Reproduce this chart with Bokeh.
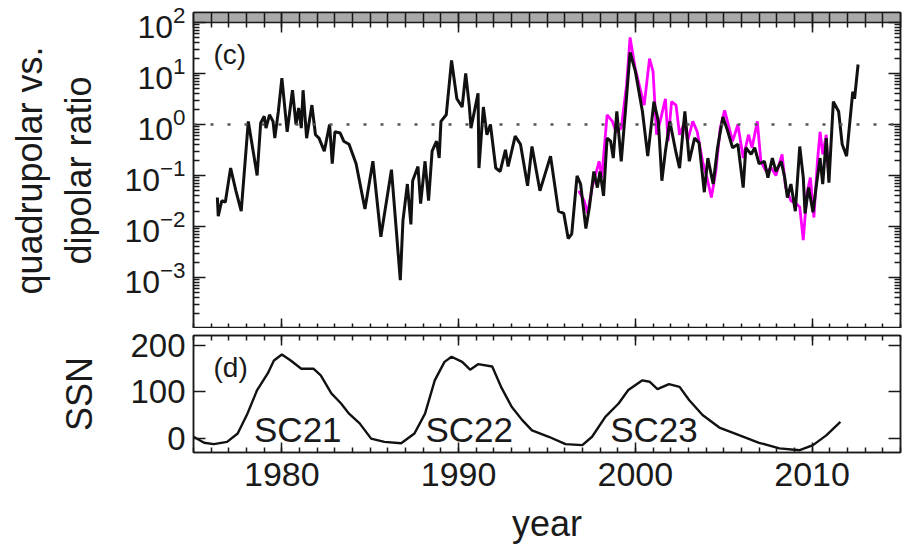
from bokeh.plotting import figure
from bokeh.layouts import column
from bokeh.models import (Range1d, FixedTicker, LinearAxis, LogAxis, Span, Label,
                          ColumnDataSource, BoxAnnotation, CustomJSTickFormatter)
from bokeh.embed import file_html
from bokeh.resources import INLINE

# ---------------- data ----------------
ratio_year = [1976.35, 1976.4, 1976.6, 1976.8, 1977.1, 1977.4, 1977.7, 1978.1, 1978.6, 1978.8,
              1979.0, 1979.1, 1979.3, 1979.5, 1979.6, 1979.8, 1980.0, 1980.3, 1980.6, 1980.8,
              1980.95, 1981.1, 1981.2, 1981.4, 1981.7, 1981.9, 1982.1, 1982.4, 1982.7, 1982.85,
              1983.0, 1983.3, 1983.5, 1983.8, 1984.2, 1984.7, 1985.15, 1985.6, 1986.2, 1986.7,
              1986.85, 1987.1, 1987.3, 1987.4, 1987.7, 1987.85, 1988.1, 1988.3, 1988.5, 1988.75,
              1988.9, 1989.0, 1989.3, 1989.6, 1989.9, 1990.2, 1990.4, 1990.6, 1990.7, 1991.1,
              1991.15, 1991.4, 1991.6, 1991.8, 1992.1, 1992.35, 1992.65, 1992.8, 1993.2, 1993.5,
              1993.9, 1994.15, 1994.6, 1995.2, 1995.65, 1995.95, 1996.2, 1996.4, 1996.7, 1996.9,
              1997.2, 1997.4, 1997.65, 1997.85, 1998.0, 1998.2, 1998.4, 1998.6, 1998.75, 1998.95,
              1999.2, 1999.45, 1999.7, 2000.0, 2000.4, 2000.7, 2001.05, 2001.3, 2001.5, 2001.7,
              2001.95, 2002.3, 2002.5, 2002.8, 2003.05, 2003.35, 2003.6, 2003.9, 2004.1, 2004.4,
              2004.65, 2004.95, 2005.2, 2005.5, 2005.8, 2006.1, 2006.25, 2006.55, 2006.75, 2007.0,
              2007.3, 2007.5, 2007.75, 2007.95, 2008.25, 2008.45, 2008.6, 2008.8, 2009.05, 2009.3,
              2009.5, 2009.6, 2009.8, 2010.05, 2010.25, 2010.45, 2010.6, 2010.8, 2010.95, 2011.2,
              2011.5, 2011.7, 2011.95, 2012.1, 2012.3, 2012.4, 2012.6]
ratio_val = [0.037, 0.016, 0.032, 0.030, 0.14, 0.050, 0.020, 1.15, 0.10, 1.07,
             1.45, 0.85, 1.55, 1.15, 0.54, 1.8, 8.1, 0.72, 4.7, 1.0,
             2.1, 0.85, 4.7, 0.54, 2.4, 0.63, 0.54, 0.30, 1.0, 0.17,
             0.72, 0.68, 0.47, 0.41, 0.17, 0.022, 0.19, 0.0063, 0.13, 0.00089,
             0.013, 0.068, 0.011, 0.079, 0.15, 0.028, 0.19, 0.032, 0.30, 0.47,
             0.22, 1.15, 1.55, 18.0, 3.2, 2.2, 10.0, 2.4, 0.85, 4.1,
             0.14, 2.2, 0.63, 1.0, 0.14, 0.12, 0.32, 0.15, 0.59, 0.41,
             0.063, 0.37, 0.050, 0.24, 0.020, 0.018, 0.0058, 0.0072, 0.098, 0.068,
             0.0091, 0.024, 0.12, 0.058, 0.12, 0.040, 0.54, 0.47, 0.22, 1.8,
             0.19, 2.1, 26.0, 11.0, 1.8, 0.24, 2.8, 1.15, 0.079, 0.30,
             1.15, 0.28, 0.14, 1.8, 0.19, 0.54, 0.44, 0.047, 0.22, 0.068,
             0.35, 1.4, 0.79, 0.35, 0.41, 0.058, 0.35, 0.26, 0.35, 0.17,
             0.19, 0.091, 0.22, 0.12, 0.19, 0.091, 0.037, 0.068, 0.020, 0.37,
             0.091, 0.018, 0.058, 0.019, 0.068, 0.22, 0.068, 0.54, 0.072, 2.8,
             1.8, 0.41, 0.24, 0.85, 4.4, 3.2, 15.0]

ratio2_year = [1996.8, 1997.1, 1997.3, 1997.55, 1997.95, 1998.1, 1998.4, 1998.7, 1998.9, 1999.2,
               1999.5, 1999.7, 2000.0, 2000.5, 2000.8, 2001.0, 2001.2, 2001.4, 2001.7, 2001.85,
               2002.05, 2002.3, 2002.5, 2002.8, 2002.95, 2003.25, 2003.5, 2003.8, 2004.05, 2004.3,
               2004.55, 2004.8, 2005.05, 2005.5, 2005.8, 2006.1, 2006.4, 2006.6, 2006.9, 2007.1,
               2007.4, 2007.7, 2007.95, 2008.3, 2008.5, 2008.8, 2009.1, 2009.3, 2009.5, 2009.7,
               2009.9, 2010.1, 2010.3, 2010.45, 2010.6, 2010.8, 2010.9]
ratio2_val = [0.05, 0.032, 0.018, 0.058, 0.19, 0.091, 1.55, 1.15, 0.72, 0.85,
              5.9, 51.0, 12.0, 2.4, 19.5, 11.0, 0.63, 1.15, 3.2, 0.47,
              2.8, 2.4, 0.63, 1.15, 0.47, 1.15, 0.72, 0.19, 0.091, 0.037,
              0.12, 0.85, 1.9, 0.47, 1.0, 0.22, 0.63, 0.35, 1.15, 0.19,
              0.12, 0.14, 0.10, 0.26, 0.058, 0.032, 0.028, 0.024, 0.0054, 0.044,
              0.091, 0.015, 0.19, 0.72, 0.26, 0.63, 0.14]

ssn_year = [1975.0, 1975.6, 1976.15, 1976.9, 1977.5, 1978.05, 1978.6, 1979.2, 1979.55, 1980.0,
            1980.5, 1981.1, 1981.8, 1982.2, 1982.8, 1983.35, 1983.8, 1984.4, 1985.05, 1985.8,
            1986.75, 1987.5, 1988.1, 1988.65, 1989.2, 1989.6, 1990.2, 1990.65, 1991.1, 1991.9,
            1992.4, 1993.0, 1993.6, 1994.15, 1995.1, 1996.05, 1997.0, 1997.55, 1998.3, 1999.05,
            1999.6, 2000.4, 2000.8, 2001.25, 2001.9, 2002.5, 2003.05, 2003.8, 2004.75, 2005.9,
            2007.0, 2008.15, 2009.3, 2010.05, 2010.8, 2011.6]
ssn_val = [3, -10, -13, -8, 10, 53, 104, 140, 168, 181,
           168, 150, 150, 136, 97, 75, 53, 32, -1, -8,
           -11, 10, 53, 125, 165, 176, 165, 148, 160, 155,
           111, 68, 39, 17, 3, -13, -15, 3, 46, 75,
           104, 125, 122, 106, 117, 111, 82, 50, 23, 6,
           -10, -22, -26, -15, 6, 35]

year_ticks = [1980, 1990, 2000, 2010]
year_minor = list(range(1975, 2016))
ratio_ticks = [1e-3, 1e-2, 1e-1, 1.0, 10.0, 100.0]
ratio_minor = [m * 10.0 ** e for e in range(-4, 2) for m in range(2, 10)]
ssn_ticks = [0, 100, 200]
ssn_minor = [50, 150]
cycle_names = ["SC21", "SC22", "SC23"]

# ---------------- styling ----------------
FONT = "Liberation Sans"
INK = "#1a1a1a"
x_range = Range1d(1975, 2015)


def base_fig(**kw):
    p = figure(x_range=x_range, toolbar_location=None, output_backend="svg",
               frame_width=707, min_border_left=193, min_border_right=13, **kw)
    p.outline_line_color = INK
    p.outline_line_width = 1.5
    p.grid.visible = False
    p.background_fill_color = "white"
    p.border_fill_color = "white"
    return p


def style_axis(ax, labels, major=12, minor=6, size="34px"):
    ax.major_tick_in = major
    ax.major_tick_out = 0
    ax.minor_tick_in = max(minor, 1)
    ax.minor_tick_out = 0
    for a in ("axis_line", "major_tick_line", "minor_tick_line"):
        setattr(ax, a + "_color", INK)
        setattr(ax, a + "_width", 1.5)
    if minor == 0:
        ax.minor_tick_line_color = None
    if labels:
        ax.major_label_text_font = FONT
        ax.major_label_text_font_size = size
        ax.major_label_text_color = INK
        ax.axis_label_text_font = FONT
        ax.axis_label_text_font_size = "36px"
        ax.axis_label_text_font_style = "normal"
        ax.axis_label_text_color = INK
    else:
        ax.formatter = CustomJSTickFormatter(code="return ''")
        ax.major_label_text_font_size = "1px"
        ax.major_label_standoff = 0
        ax.axis_label = None


def year_ticker():
    return FixedTicker(ticks=year_ticks, minor_ticks=year_minor)


# ---- panel (c), with the grey band left by the panel above ----
pc = base_fig(frame_height=316, y_axis_type="log", y_range=Range1d(1e-4, 157.0),
              min_border_top=12, min_border_bottom=0)
pc.xaxis.ticker = year_ticker()
style_axis(pc.xaxis[0], False, major=10, minor=5)
top_c = LinearAxis(ticker=year_ticker())
style_axis(top_c, False, major=20, minor=15)
pc.add_layout(top_c, "above")
pc.yaxis.ticker = FixedTicker(ticks=ratio_ticks, minor_ticks=ratio_minor)
pc.yaxis.axis_label = "quadrupolar vs.\ndipolar ratio"
style_axis(pc.yaxis[0], True, major=12, minor=6, size="32px")
pc.yaxis.major_label_standoff = 8
pc.yaxis.axis_label_standoff = 22
right_c = LogAxis(ticker=FixedTicker(ticks=ratio_ticks, minor_ticks=ratio_minor))
style_axis(right_c, False, major=12, minor=6)
pc.add_layout(right_c, "right")

pc.add_layout(BoxAnnotation(bottom=100.0, fill_color="#a9a9a9", fill_alpha=1.0,
                            line_color=None, level="underlay"))
pc.add_layout(Span(location=100.0, dimension="width", line_color=INK, line_width=1.5))
pc.add_layout(Span(location=1.0, dimension="width", line_color="#555555",
                   line_width=2.5, line_dash="3 14"))
src2 = ColumnDataSource(dict(x=ratio2_year, y=ratio2_val))
pc.line("x", "y", source=src2, line_color="#ff00ff", line_width=2.8)
src1 = ColumnDataSource(dict(x=ratio_year, y=ratio_val))
pc.line("x", "y", source=src1, line_color="#111111", line_width=3.0)
pc.add_layout(Label(x=1977.05, y=24, text="(c)", text_font=FONT, text_font_size="28px",
                    text_color=INK, text_align="center", text_baseline="middle"))

# ---- panel (d) ----
pd_ = base_fig(frame_height=117, y_range=Range1d(-31, 222), min_border_top=7,
               min_border_bottom=0)
pd_.xaxis.ticker = year_ticker()
pd_.xaxis.axis_label = "year"
style_axis(pd_.xaxis[0], True, major=10, minor=5, size="34px")
pd_.xaxis.major_label_standoff = 10
pd_.xaxis.axis_label_standoff = 14
top_d = LinearAxis(ticker=year_ticker())
style_axis(top_d, False, major=10, minor=5)
pd_.add_layout(top_d, "above")
pd_.yaxis.ticker = FixedTicker(ticks=ssn_ticks, minor_ticks=ssn_minor)
pd_.yaxis.axis_label = "SSN"
style_axis(pd_.yaxis[0], True, major=12, minor=0, size="33px")
pd_.yaxis.major_label_standoff = 8
pd_.yaxis.axis_label_standoff = 27
right_d = LinearAxis(ticker=FixedTicker(ticks=ssn_ticks, minor_ticks=ssn_minor))
style_axis(right_d, False, major=12, minor=0)
pd_.add_layout(right_d, "right")

src3 = ColumnDataSource(dict(x=ssn_year, y=ssn_val))
pd_.line("x", "y", source=src3, line_color="#111111", line_width=2.4)
pd_.add_layout(Label(x=1977.1, y=153, text="(d)", text_font=FONT, text_font_size="28px",
                     text_color=INK, text_align="center", text_baseline="middle"))
for name, xc in zip(cycle_names, [1980.9, 1990.6, 2001.05]):
    pd_.add_layout(Label(x=xc, y=18, text=name, text_font=FONT, text_font_size="35px",
                         text_color=INK, text_align="center", text_baseline="middle"))

layout = column(pc, pd_, spacing=0)
open("out.html", "w").write(file_html(layout, INLINE))
